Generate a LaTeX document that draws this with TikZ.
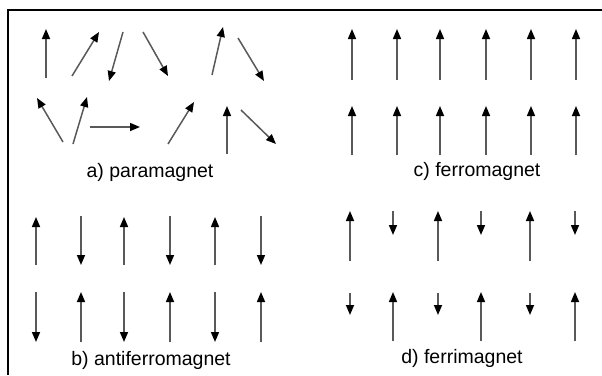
\documentclass[tikz,border=0pt]{standalone}
\usepackage{fontspec}
\setmainfont{Liberation Sans}
\usetikzlibrary{arrows.meta}
\tikzset{
  spin/.style={draw=black!65, line width=1.5pt, -{Triangle[length=10pt,width=8pt,color=black]}},
  frameline/.style={draw=black, line width=2.5pt},
  caption/.style={anchor=base, inner sep=0pt, font=\fontsize{19.5}{23}\selectfont}
}
\begin{document}
\begin{tikzpicture}[x=1pt,y=-1pt]
\useasboundingbox (0,0) rectangle (602,375);
% frame
\coordinate (fa) at (602,10);
\coordinate (fb) at (8,10);
\coordinate (fc) at (8,375);
\draw[frameline] (fa) -- (fb) -- (fc);
% a) paramagnet
\draw[spin] (46,78) -- (46,29);
\draw[spin] (72,76) -- (99,32);
\draw[spin] (123,32) -- (109,81);
\draw[spin] (143,32) -- (168,76);
\draw[spin] (212,75) -- (223,27);
\draw[spin] (238,38) -- (264,81);
\draw[spin] (63,142) -- (37,98);
\draw[spin] (73,144) -- (87,97);
\draw[spin] (90,127) -- (140,127);
\draw[spin] (168,144) -- (194,102);
\draw[spin] (227,154) -- (227,106);
\draw[spin] (241,110) -- (276,144);
\node[caption] (la) at (150,177) {a) paramagnet};
% c) ferromagnet
\foreach \x in {352,397,440,486,531,576}{
  \draw[spin] (\x,80) -- (\x,29);
  \draw[spin] (\x,155) -- (\x,106);
}
\node[caption] (lc) at (477,176) {c) ferromagnet};
% b) antiferromagnet
\foreach \x [count=\i] in {36,81,124,170,215,261}{
  \ifodd\i
    \draw[spin] (\x,265) -- (\x,217);
    \draw[spin] (\x,292) -- (\x,342);
  \else
    \draw[spin] (\x,216) -- (\x,265);
    \draw[spin] (\x,342) -- (\x,292);
  \fi
}
\node[caption] (lb) at (151,365) {b) antiferromagnet};
% d) ferrimagnet
\foreach \x [count=\i] in {350,393,438,481,530,575}{
  \ifodd\i
    \draw[spin] (\x,261) -- (\x,211);
    \draw[spin] (\x,293) -- (\x,315);
  \else
    \draw[spin] (\x,211) -- (\x,235);
    \draw[spin] (\x,341) -- (\x,292);
  \fi
}
\node[caption] (ld) at (462,363) {d) ferrimagnet};
\end{tikzpicture}
\end{document}
